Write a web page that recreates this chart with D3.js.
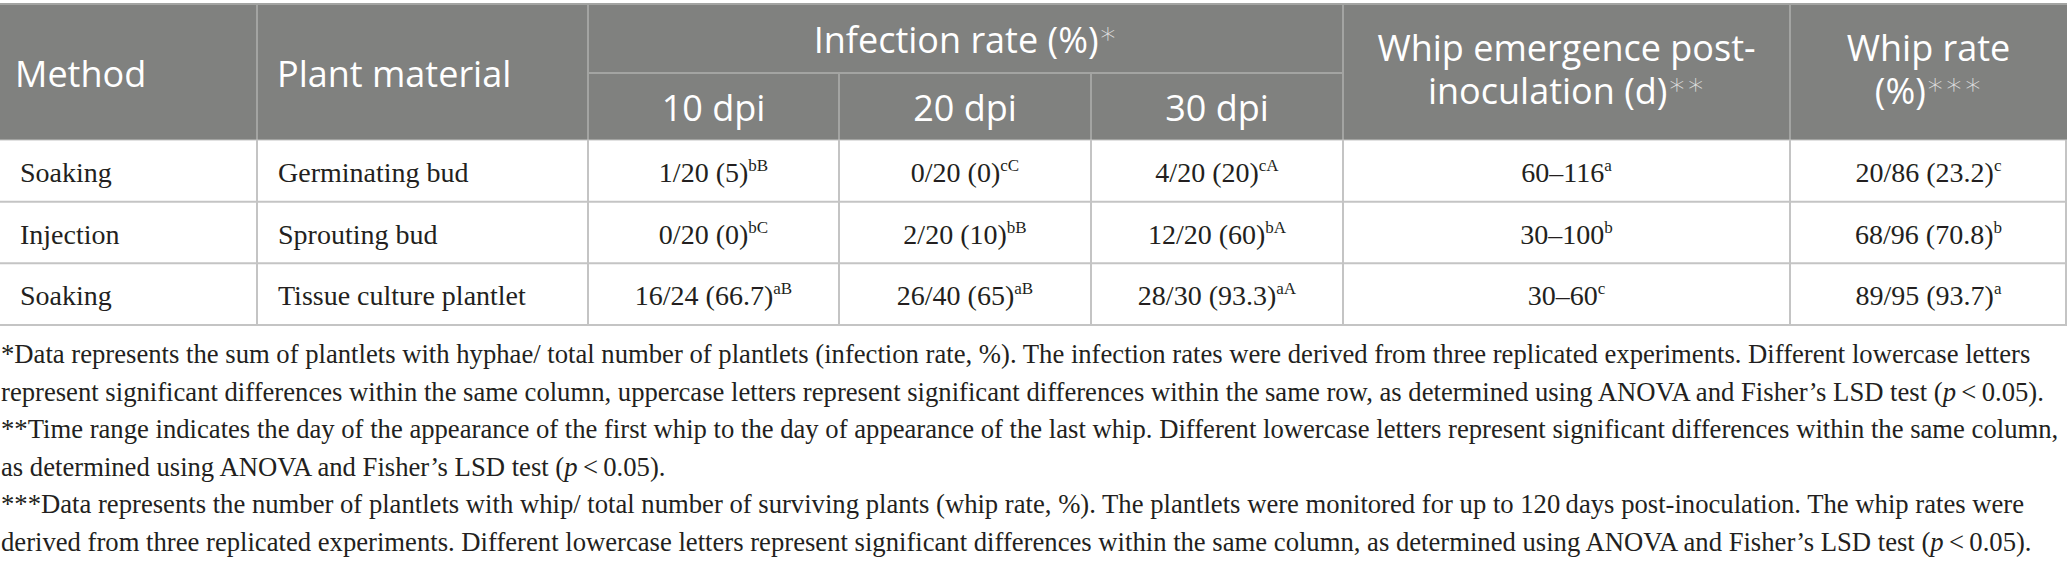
<!DOCTYPE html>
<html>
<head>
<meta charset="utf-8">
<script src="https://cdn.jsdelivr.net/npm/d3@7"></script>
<style>
  html, body { margin: 0; padding: 0; background: #fff; }
  svg { display: block; }
</style>
</head>
<body>
<script>
// table contents
var methods = ["Soaking", "Injection", "Soaking"];
var materials = ["Germinating bud", "Sprouting bud", "Tissue culture plantlet"];
var dpiLabels = ["10 dpi", "20 dpi", "30 dpi"];
var infected = [[1, 0, 4], [0, 2, 12], [16, 26, 28]];
var inoculated = [[20, 20, 20], [20, 20, 20], [24, 40, 30]];
var infectionRate = [["5", "0", "20"], ["0", "10", "60"], ["66.7", "65", "93.3"]];
var infectionLetters = [["bB", "cC", "cA"], ["bC", "bB", "bA"], ["aB", "aB", "aA"]];
var emergenceFrom = [60, 30, 30];
var emergenceTo = [116, 100, 60];
var emergenceLetters = ["a", "b", "c"];
var whipCount = [20, 68, 89];
var survivors = [86, 96, 95];
var whipRate = ["23.2", "70.8", "93.7"];
var whipLetters = ["c", "b", "a"];

var footnotes = [
  "*Data represents the sum of plantlets with hyphae/ total number of plantlets (infection rate, %). The infection rates were derived from three replicated experiments. Different lowercase letters",
  "represent significant differences within the same column, uppercase letters represent significant differences within the same row, as determined using ANOVA and Fisher\u2019s LSD test (_p_\u2009<\u20090.05).",
  "**Time range indicates the day of the appearance of the first whip to the day of appearance of the last whip. Different lowercase letters represent significant differences within the same column,",
  "as determined using ANOVA and Fisher\u2019s LSD test (_p_\u2009<\u20090.05).",
  "***Data represents the number of plantlets with whip/ total number of surviving plants (whip rate, %). The plantlets were monitored for up to 120\u2009days post-inoculation. The whip rates were",
  "derived from three replicated experiments. Different lowercase letters represent significant differences within the same column, as determined using ANOVA and Fisher\u2019s LSD test (_p_\u2009<\u20090.05)."
];

var W = 2067, H = 565;
var colWidths = [257, 331, 251, 252, 252, 447, 277];
var edges = [0].concat(Array.from(d3.cumsum(colWidths)));
var x = d3.scaleLinear().domain([0, d3.sum(colWidths)]).range([0, W]);
var headTop = 4, headMid = 73, headBottom = 140, tableBottom = 325;
var y = d3.scaleBand().domain(d3.range(methods.length)).range([headBottom, tableBottom]);

var headFill = "#80817f", headLine = "#a3a4a2", bodyLine = "#c4c4c4";
var sans = "'Open Sans', sans-serif", serif = "'Liberation Serif', 'Times New Roman', serif";
var headSize = 36, bodySize = 28, supSize = 17, noteSize = 24;

var svg = d3.select("body").append("svg")
  .attr("width", W).attr("height", H);

// header block
svg.append("rect")
  .attr("x", 0).attr("y", headTop)
  .attr("width", W).attr("height", headBottom - headTop)
  .attr("fill", headFill);

var lines = svg.append("g");
lines.append("line").attr("x1", 0).attr("x2", W).attr("y1", headTop).attr("y2", headTop)
  .attr("stroke", headLine).attr("stroke-width", 2);
lines.append("line").attr("x1", x(edges[2])).attr("x2", x(edges[5]))
  .attr("y1", headMid).attr("y2", headMid)
  .attr("stroke", headLine).attr("stroke-width", 2);
// vertical header separators
[1, 2, 5, 6].forEach(function(i) {
  lines.append("line").attr("x1", x(edges[i])).attr("x2", x(edges[i]))
    .attr("y1", headTop).attr("y2", headBottom)
    .attr("stroke", headLine).attr("stroke-width", 2);
});
[3, 4].forEach(function(i) {
  lines.append("line").attr("x1", x(edges[i])).attr("x2", x(edges[i]))
    .attr("y1", headMid).attr("y2", headBottom)
    .attr("stroke", headLine).attr("stroke-width", 2);
});

// body grid
y.domain().forEach(function(r) {
  lines.append("line").attr("x1", 0).attr("x2", W)
    .attr("y1", y(r) + y.bandwidth()).attr("y2", y(r) + y.bandwidth())
    .attr("stroke", bodyLine).attr("stroke-width", 2);
});
lines.append("line").attr("x1", 0).attr("x2", W)
  .attr("y1", headBottom).attr("y2", headBottom)
  .attr("stroke", bodyLine).attr("stroke-width", 1);
[1, 2, 3, 4, 5, 6, 7].forEach(function(i) {
  var xx = i === 7 ? W - 1 : x(edges[i]);
  lines.append("line").attr("x1", xx).attr("x2", xx)
    .attr("y1", headBottom).attr("y2", tableBottom)
    .attr("stroke", bodyLine).attr("stroke-width", 2);
});

// header text
var head = svg.append("g").attr("fill", "#fff")
  .style("font-family", sans).style("font-size", headSize + "px");

function headText(label, stars, cx, by, anchor) {
  var t = head.append("text").attr("x", cx).attr("y", by)
    .attr("text-anchor", anchor || "middle");
  t.append("tspan").text(label);
  if (stars) {
    t.append("tspan").text(stars)
      .attr("fill", "#e2e2e2").attr("dy", -10)
      .style("font-family", "'DejaVu Sans', sans-serif")
      .style("font-size", "30px").style("font-weight", 300);
  }
  return t;
}
var mid = function(i) { return (x(edges[i]) + x(edges[i + 1])) / 2; };

headText("Method", "", x(edges[0]) + 15, (headTop + headBottom) / 2 + 15, "start");
headText("Plant material", "", x(edges[1]) + 20, (headTop + headBottom) / 2 + 15, "start");
headText("Infection rate (%)", "\u2217", (x(edges[2]) + x(edges[5])) / 2, (headTop + headMid) / 2 + 14);
dpiLabels.forEach(function(d, i) {
  headText(d, "", mid(2 + i), (headMid + headBottom) / 2 + 14);
});
headText("Whip emergence post-", "", mid(5), 61);
headText("inoculation (d)", "\u2217\u2217", mid(5), 104);
headText("Whip rate", "", mid(6), 61);
headText("(%)", "\u2217\u2217\u2217", mid(6), 104);

// body text
var body = svg.append("g").attr("fill", "#231f20")
  .style("font-family", serif).style("font-size", bodySize + "px");

function cell(main, sup, cx, r, anchor) {
  var t = body.append("text").attr("x", cx)
    .attr("y", y(r) + y.bandwidth() / 2 + 11)
    .attr("text-anchor", anchor || "middle");
  t.append("tspan").text(main);
  if (sup) t.append("tspan").text(sup)
    .style("font-size", supSize + "px").attr("dy", -11);
}

methods.forEach(function(m, r) {
  cell(m, "", x(edges[0]) + 20, r, "start");
  cell(materials[r], "", x(edges[1]) + 21, r, "start");
  dpiLabels.forEach(function(d, c) {
    cell(infected[r][c] + "/" + inoculated[r][c] + " (" + infectionRate[r][c] + ")",
      infectionLetters[r][c], mid(2 + c), r);
  });
  cell(emergenceFrom[r] + "\u2013" + emergenceTo[r], emergenceLetters[r], mid(5), r);
  cell(whipCount[r] + "/" + survivors[r] + " (" + whipRate[r] + ")", whipLetters[r], mid(6), r);
});

// footnotes, sized so the widest line stays inside the page
var notes = svg.append("g").attr("fill", "#231f20")
  .style("font-family", serif).style("font-size", noteSize + "px");
var noteY = d3.scaleLinear().domain([0, footnotes.length - 1]).range([363, 551]);
footnotes.forEach(function(line, i) {
  var t = notes.append("text").attr("x", 1).attr("y", noteY(i));
  line.split("_").forEach(function(part, k) {
    var s = t.append("tspan").text(part);
    if (k % 2 === 1) s.style("font-style", "italic");
  });
});
var widest = d3.max(notes.selectAll("text").nodes(), function(n) { return n.getComputedTextLength(); });
notes.style("font-size", (noteSize * 2058 / widest) + "px");
</script>
</body>
</html>
